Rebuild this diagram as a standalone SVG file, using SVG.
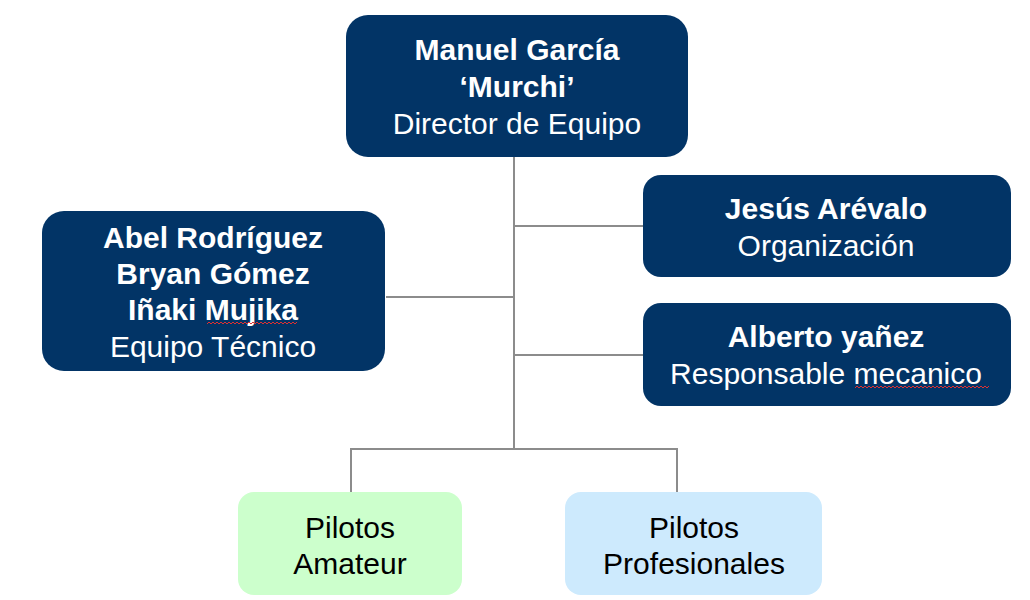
<svg xmlns="http://www.w3.org/2000/svg" width="1030" height="600" viewBox="0 0 1030 600">
<style>
.dark{fill:#023466;}
.t{font-family:"Liberation Sans",Arial,sans-serif;font-size:30px;text-anchor:middle;}
.w{fill:#ffffff;}
.b{font-weight:bold;}
.k{fill:#000000;}
.ln{stroke:#8c8c8c;stroke-width:2;fill:none;}
.sq{stroke:#e03030;stroke-width:1;fill:none;}
</style>
<rect width="1030" height="600" fill="#ffffff"/>
<g id="connectors">
<path class="ln" d="M514,157 V449"/>
<path class="ln" d="M514,226 H643"/>
<path class="ln" d="M514,355 H643"/>
<path class="ln" d="M386,297 H514"/>
<path class="ln" d="M351,493 V449 H677 V493"/>
</g>
<g id="director">
<rect class="dark" x="346" y="15" width="342" height="142" rx="22"/>
<text class="t w b" x="517" y="60">Manuel García</text>
<text class="t w b" x="517" y="97">‘Murchi’</text>
<text class="t w" x="517" y="134">Director de Equipo</text>
</g>
<g id="tecnico">
<rect class="dark" x="42" y="211" width="343" height="160" rx="22"/>
<text class="t w b" x="213" y="248">Abel Rodríguez</text>
<text class="t w b" x="213" y="284">Bryan Gómez</text>
<text class="t w b" x="213" y="320">Iñaki Mujika</text>
<text class="t w" x="213" y="357">Equipo Técnico</text>
<path class="sq" d="M207,324 l2,-2 l2,2 l2,-2 l2,2 l2,-2 l2,2 l2,-2 l2,2 l2,-2 l2,2 l2,-2 l2,2 l2,-2 l2,2 l2,-2 l2,2 l2,-2 l2,2 l2,-2 l2,2 l2,-2 l2,2 l2,-2 l2,2 l2,-2 l2,2 l2,-2 l2,2 l2,-2 l2,2 l2,-2 l2,2 l2,-2 l2,2 l2,-2 l2,2 l2,-2 l2,2 l2,-2 l2,2 l2,-2 l2,2 l2,-2 l2,2 l2,-2"/>
</g>
<g id="organizacion">
<rect class="dark" x="643" y="175" width="368" height="102" rx="18"/>
<text class="t w b" x="826" y="219">Jesús Arévalo</text>
<text class="t w" x="826" y="256">Organización</text>
</g>
<g id="mecanico">
<rect class="dark" x="643" y="303" width="368" height="103" rx="18"/>
<text class="t w b" x="826" y="347">Alberto yañez</text>
<text class="t w" x="826" y="384">Responsable mecanico</text>
<path class="sq" d="M855,388 l2,-2 l2,2 l2,-2 l2,2 l2,-2 l2,2 l2,-2 l2,2 l2,-2 l2,2 l2,-2 l2,2 l2,-2 l2,2 l2,-2 l2,2 l2,-2 l2,2 l2,-2 l2,2 l2,-2 l2,2 l2,-2 l2,2 l2,-2 l2,2 l2,-2 l2,2 l2,-2 l2,2 l2,-2 l2,2 l2,-2 l2,2 l2,-2 l2,2 l2,-2 l2,2 l2,-2 l2,2 l2,-2 l2,2 l2,-2 l2,2 l2,-2 l2,2 l2,-2 l2,2 l2,-2 l2,2 l2,-2 l2,2 l2,-2 l2,2 l2,-2 l2,2 l2,-2 l2,2 l2,-2 l2,2 l2,-2 l2,2 l2,-2 l2,2 l2,-2 l2,2 l2,-2"/>
</g>
<g id="amateur">
<rect x="238" y="492" width="224" height="103" rx="16" fill="#ccffcc"/>
<text class="t k" x="350" y="538">Pilotos</text>
<text class="t k" x="350" y="574">Amateur</text>
</g>
<g id="profesionales">
<rect x="565" y="492" width="257" height="103" rx="16" fill="#cdeafd"/>
<text class="t k" x="694" y="538">Pilotos</text>
<text class="t k" x="694" y="574">Profesionales</text>
</g>
</svg>
